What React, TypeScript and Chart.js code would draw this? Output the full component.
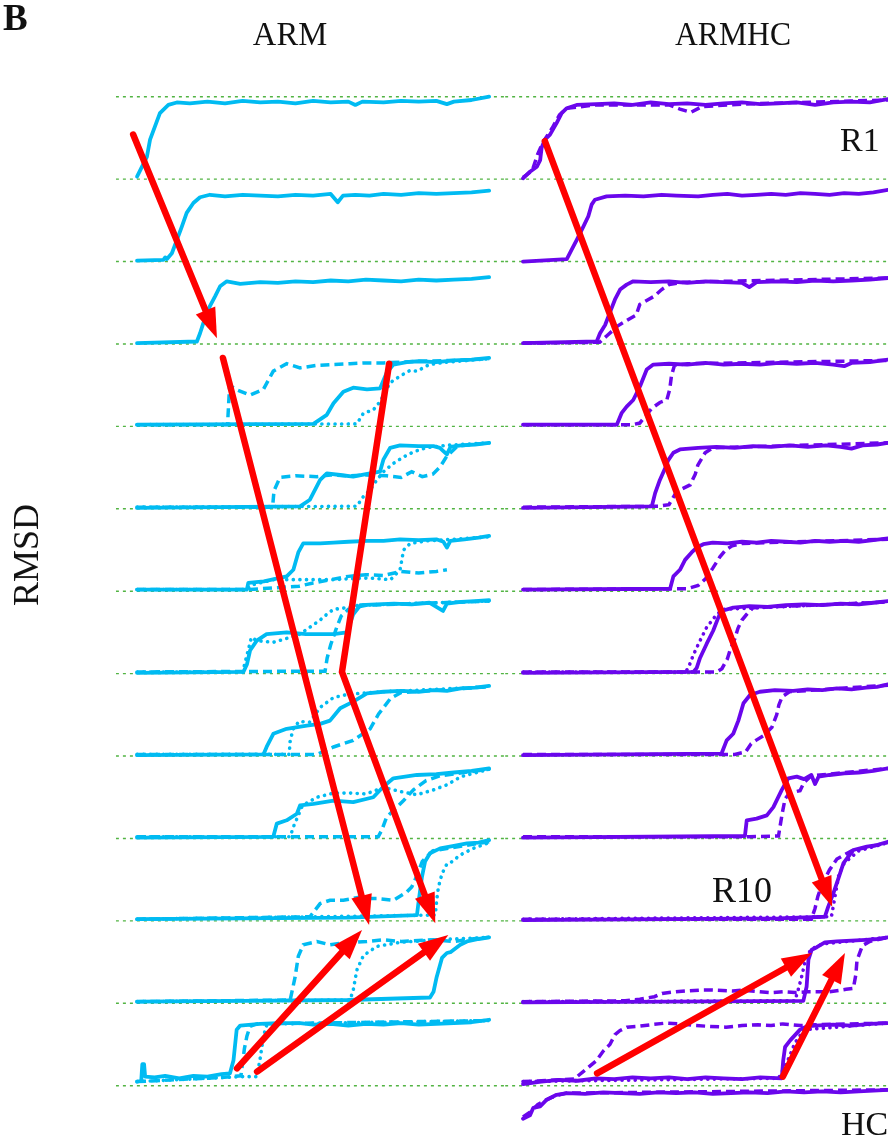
import { useEffect, useRef } from "react";
import { Chart, registerables } from "chart.js";

Chart.register(...registerables);

// ---- colours -------------------------------------------------------------
const ARM_COLOR = "#00bbf2";
const ARMHC_COLOR = "#6a06ec";
const LEVEL_COLOR = "#52b443";
const ARROW_COLOR = "#ff0000";

// ---- vertical stacking: one horizontal reference level per replica row ----
const LEVELS = [0, 1, 2, 3, 4, 5, 6, 7, 8, 9, 10, 11, 12];
const Y_MIN = -0.6;
const Y_MAX = 12.5;

// ---- ARM replicas (time, normalised RMSD) pairs, row 1 = top --------------
const armR1Solid = [0,0.03, 2.8,0.27, 3.7,0.48, 5.1,0.64, 6.5,0.80, 8.9,0.90, 11.3,0.93, 15,0.92, 20,0.94, 25,0.92, 30,0.95, 35,0.93, 40,0.94, 45,0.92, 50,0.95, 55,0.93, 60,0.94, 62,0.90, 64,0.94, 70,0.93, 75,0.95, 80,0.94, 85,0.95, 88,0.91, 90,0.94, 95,0.96, 100,1.0];
const armR2Solid = [0,0.01, 7.5,0.02, 8.0,0.05, 8.5,0.03, 9.9,0.10, 11.3,0.26, 12.7,0.42, 14.1,0.59, 16.0,0.71, 17.9,0.78, 20.7,0.81, 25,0.79, 30,0.81, 35,0.80, 40,0.79, 45,0.81, 50,0.80, 55,0.82, 57,0.72, 58.5,0.80, 62,0.81, 66,0.80, 70,0.82, 75,0.81, 80,0.83, 85,0.82, 90,0.83, 95,0.84, 100,0.86];
const armR3Solid = [0,0.01, 17.0,0.03, 17.9,0.13, 18.8,0.25, 20.7,0.46, 22.2,0.58, 23.6,0.70, 25.5,0.76, 29.3,0.73, 35,0.75, 40,0.74, 45,0.76, 50,0.75, 55,0.77, 60,0.76, 65,0.78, 70,0.77, 75,0.76, 80,0.78, 85,0.77, 90,0.78, 95,0.79, 100,0.81];
const armR4Solid = [0,0.02, 50.1,0.03, 53.9,0.14, 55.8,0.28, 58.6,0.42, 61.4,0.47, 65.3,0.45, 69.0,0.46, 70.9,0.65, 72.8,0.75, 76.6,0.78, 80,0.79, 85,0.78, 90,0.80, 95,0.81, 100,0.83];
const armR4Dash = [0,0.02, 25.7,0.02, 26.3,0.50, 28,0.45, 32.1,0.38, 35.9,0.45, 38.7,0.67, 42.5,0.76, 46.3,0.71, 51.1,0.74, 55,0.75, 60.5,0.76, 65,0.77, 70,0.77, 75,0.78, 80,0.79, 90,0.80, 100,0.82];
const armR4Dot = [0,0.02, 62.4,0.03, 64.3,0.16, 67.1,0.20, 69.0,0.30, 71.9,0.53, 74.7,0.61, 77.6,0.68, 79.5,0.67, 83,0.75, 88,0.78, 100,0.82];
const armR5Solid = [0,0.01, 46.3,0.03, 49.1,0.11, 52.0,0.35, 53.9,0.43, 57.7,0.41, 61.4,0.39, 65,0.42, 69.0,0.45, 70.0,0.60, 71.9,0.74, 74.7,0.77, 80,0.76, 84.2,0.76, 86,0.74, 88.0,0.66, 89,0.75, 92,0.77, 96,0.78, 100,0.80];
const armR5Dash = [0,0.02, 38.5,0.02, 38.9,0.22, 40.6,0.38, 45,0.40, 51.1,0.39, 55,0.41, 60,0.40, 65,0.41, 70.9,0.40, 75,0.38, 78,0.45, 81,0.39, 84,0.42, 86.1,0.51, 88,0.64, 91,0.76, 100,0.80];
const armR5Dot = [0,0.02, 62.4,0.03, 64.3,0.15, 66.2,0.23, 68.1,0.35, 70,0.45, 72.8,0.55, 75.7,0.63, 78.5,0.69, 82,0.74, 88,0.77, 100,0.80];
const armR6Solid = [0,0.02, 31.2,0.02, 31.6,0.10, 36,0.12, 42.5,0.18, 44.4,0.26, 45.8,0.47, 47.2,0.58, 52,0.58, 55.8,0.59, 60,0.60, 65.3,0.61, 70,0.61, 74.7,0.63, 80,0.62, 85,0.63, 87,0.60, 88.0,0.53, 89,0.61, 93,0.63, 97,0.65, 100,0.67];
const armR6Dash = [0,0.02, 32,0.02, 42,0.05, 46,0.06, 50,0.10, 55,0.14, 60,0.18, 65,0.20, 70,0.19, 75,0.24, 80,0.22, 85,0.24, 88,0.26];
const armR6Dot = [0,0.02, 31,0.02, 33,0.08, 38.7,0.14, 46.3,0.14, 55.8,0.14, 60,0.15, 66,0.16, 72,0.14, 74.7,0.26, 75.2,0.38, 75.7,0.50, 77.6,0.58, 82,0.61, 90,0.63, 100,0.66];
const armR7Solid = [0,0.01, 30.2,0.02, 31.2,0.11, 32.1,0.28, 34.0,0.40, 36.8,0.48, 42.5,0.50, 48,0.48, 55.8,0.48, 59.6,0.50, 61.4,0.72, 63.4,0.83, 68,0.84, 73,0.85, 78,0.84, 83,0.86, 86.9,0.76, 88,0.85, 92,0.87, 96,0.88, 100,0.89];
const armR7Dash = [0,0.02, 53.4,0.03, 54,0.19, 55,0.35, 56.7,0.56, 58,0.70, 60,0.78, 65,0.83, 100,0.88];
const armR7Dot = [0,0.02, 30,0.02, 32.5,0.44, 34,0.40, 38.7,0.38, 42,0.42, 46.3,0.48, 52,0.65, 53.9,0.72, 55.8,0.78, 59.6,0.80, 63,0.83, 100,0.88];
const armR8Solid = [0,0.01, 35.9,0.02, 36.8,0.11, 38.7,0.27, 42.5,0.33, 48.2,0.37, 52.0,0.39, 54.8,0.43, 57.7,0.58, 61.4,0.66, 65.3,0.76, 70.0,0.78, 75,0.79, 80,0.78, 84.2,0.80, 88,0.79, 92,0.82, 96,0.83, 100,0.85];
const armR8Dash = [0,0.02, 51.1,0.02, 55.8,0.11, 61.4,0.19, 66.2,0.33, 68.6,0.51, 69.7,0.57, 72,0.70, 75,0.77, 100,0.84];
const armR8Dot = [0,0.02, 43.2,0.02, 43.5,0.19, 44.4,0.33, 46,0.42, 49,0.41, 52,0.59, 55.8,0.71, 60,0.75, 70,0.78, 100,0.84];
const armR9Solid = [0,0.01, 38.7,0.02, 39.7,0.18, 42.5,0.22, 45.4,0.30, 46.3,0.40, 50.1,0.42, 55.8,0.46, 61.4,0.44, 67.1,0.50, 70.0,0.63, 72.8,0.73, 79.5,0.77, 85,0.78, 90,0.80, 95,0.82, 100,0.85];
const armR9Dash = [0,0.02, 68.5,0.02, 69.5,0.10, 70.9,0.26, 73.8,0.38, 75.7,0.46, 78.5,0.59, 82,0.70, 86,0.76, 100,0.84];
const armR9Dot = [0,0.02, 43.5,0.02, 44.4,0.14, 47,0.40, 51.1,0.50, 55.8,0.55, 61,0.55, 65,0.54, 70,0.62, 74.7,0.57, 79.5,0.53, 84.2,0.59, 88,0.65, 92,0.75, 100,0.84];
const armR10Solid = [0,0.02, 30,0.03, 60,0.04, 79.5,0.07, 79.9,0.21, 80.9,0.53, 81.8,0.72, 83.2,0.82, 86.1,0.88, 90,0.91, 93.7,0.94, 97,0.95, 100,0.98];
const armR10Dash = [0,0.02, 49.1,0.05, 52.0,0.21, 54.8,0.25, 58.6,0.25, 63.4,0.29, 66,0.27, 68.1,0.27, 72.8,0.25, 76.6,0.35, 78.0,0.41, 79.5,0.55, 81,0.72, 84,0.85, 100,0.96];
const armR10Dot = [0,0.02, 84.7,0.07, 85.1,0.25, 85.6,0.41, 86.6,0.57, 88.0,0.69, 88.9,0.70, 91.8,0.80, 95.5,0.88, 100,0.95];
const armR11Solid = [0,0.02, 30,0.03, 60,0.04, 83.2,0.07, 84.2,0.14, 85.1,0.32, 86.6,0.55, 88.0,0.61, 89,0.62, 91.8,0.71, 93.7,0.75, 97,0.78, 100,0.80];
const armR11Dash = [0,0.02, 43.5,0.04, 44.9,0.32, 45.8,0.57, 47.2,0.71, 51.1,0.75, 54.8,0.71, 58,0.73, 65.3,0.75, 70.0,0.77, 75,0.75, 84.2,0.77, 90,0.75, 95,0.78, 100,0.80];
const armR11Dot = [0,0.02, 60.5,0.04, 61.4,0.16, 62.4,0.40, 64.3,0.58, 68.1,0.69, 74.7,0.74, 85,0.77, 100,0.80];
const armR12Solid = [0,0.05, 1.2,0.06, 1.5,0.26, 2.0,0.26, 2.3,0.11, 5,0.10, 8,0.12, 12,0.09, 16,0.12, 20,0.11, 24,0.14, 26.4,0.15, 27.4,0.31, 28.3,0.68, 29.3,0.73, 34.9,0.75, 40,0.76, 46.3,0.76, 50,0.74, 55,0.75, 60,0.73, 65,0.75, 70,0.74, 75,0.76, 80,0.74, 85,0.75, 90,0.76, 95,0.77, 100,0.80];
const armR12Dash = [0,0.05, 24,0.10, 29.5,0.12, 30.5,0.45, 31.2,0.60, 32.1,0.72, 34,0.75, 100,0.79];
const armR12Dot = [0,0.05, 30,0.11, 34.0,0.11, 34.9,0.31, 35.9,0.60, 36.8,0.73, 40,0.75, 100,0.79];

// ---- ARMHC replicas ------------------------------------------------------
const armhcR1Solid = [0,0.01, 1.9,0.09, 3.8,0.15, 4.7,0.23, 5.1,0.38, 6.0,0.48, 7.4,0.54, 9.2,0.68, 10.6,0.80, 12.0,0.86, 14.7,0.90, 20,0.91, 25,0.92, 30,0.90, 35,0.93, 40,0.91, 45,0.92, 50,0.90, 55,0.92, 60,0.93, 65,0.91, 70,0.92, 75,0.93, 80,0.90, 85,0.93, 90,0.94, 95,0.93, 100,0.97];
const armhcR1Dash = [0,0.02, 2.5,0.10, 4.0,0.30, 5.5,0.45, 8.0,0.62, 10,0.78, 12,0.86, 20,0.90, 40,0.90, 43,0.85, 46,0.81, 49,0.88, 60,0.91, 100,0.96];
const armhcR2Solid = [0,0.0, 12.0,0.03, 13.3,0.14, 14.7,0.26, 16.5,0.42, 17.9,0.55, 18.8,0.69, 19.7,0.75, 22.9,0.79, 28,0.80, 33,0.79, 38,0.81, 42,0.80, 48,0.79, 52,0.81, 56,0.82, 60,0.80, 64,0.81, 68,0.82, 72,0.81, 76,0.83, 80,0.82, 84,0.81, 88,0.83, 92,0.82, 96,0.84, 100,0.87];
const armhcR3Solid = [0,0.01, 20.2,0.03, 21.1,0.13, 22.5,0.23, 23.8,0.38, 25.2,0.54, 26.6,0.66, 28.4,0.72, 30.2,0.76, 35,0.75, 40,0.76, 45,0.74, 50,0.76, 55,0.75, 60,0.74, 62,0.69, 64,0.75, 70,0.76, 75,0.75, 80,0.77, 85,0.76, 90,0.77, 95,0.78, 100,0.80];
const armhcR3Dash = [0,0.01, 21,0.02, 23,0.10, 26,0.22, 29,0.30, 31,0.35, 32,0.48, 34,0.53, 36,0.58, 38,0.66, 40,0.72, 44,0.75, 100,0.80];
const armhcR4Solid = [0,0.02, 25.7,0.02, 27.0,0.16, 28.4,0.24, 30.2,0.32, 32.1,0.49, 33.9,0.69, 35.7,0.75, 40,0.76, 45,0.75, 50,0.77, 55,0.75, 60,0.76, 65,0.75, 70,0.77, 75,0.76, 80,0.77, 85,0.75, 88,0.73, 90,0.77, 95,0.78, 100,0.81];
const armhcR4Dash = [0,0.02, 30,0.02, 32,0.04, 34,0.15, 35.3,0.22, 37.5,0.29, 39.4,0.32, 40.2,0.45, 40.7,0.62, 41.5,0.74, 45,0.76, 100,0.80];
const armhcR5Solid = [0,0.01, 35.3,0.03, 36.2,0.19, 37.5,0.35, 38.9,0.49, 39.8,0.59, 41.2,0.68, 43.0,0.72, 48,0.74, 53,0.75, 58,0.74, 63,0.76, 68,0.75, 73,0.77, 78,0.75, 83,0.77, 87,0.75, 90,0.73, 93,0.77, 97,0.78, 100,0.80];
const armhcR5Dash = [0,0.02, 37,0.03, 40,0.05, 42.1,0.21, 44,0.25, 45.8,0.29, 47.2,0.42, 47.9,0.53, 49.9,0.68, 52,0.74, 100,0.80];
const armhcR6Solid = [0,0.02, 40.3,0.03, 41.2,0.18, 43.0,0.26, 44.4,0.38, 46.2,0.47, 47.6,0.53, 49.4,0.57, 52,0.59, 56,0.58, 60,0.60, 64,0.59, 68,0.61, 72,0.60, 76,0.59, 80,0.61, 84,0.60, 88,0.61, 92,0.60, 96,0.62, 100,0.64];
const armhcR6Dash = [0,0.02, 45,0.03, 48,0.07, 50,0.15, 52,0.28, 54,0.42, 55.5,0.50, 57.3,0.55, 60,0.58, 100,0.63];
const armhcR7Solid = [0,0.01, 46.7,0.02, 47.6,0.07, 48.5,0.19, 50.3,0.36, 52.1,0.52, 53.5,0.68, 54.4,0.76, 57.6,0.80, 62,0.82, 67,0.81, 72,0.83, 77,0.84, 82,0.83, 87,0.85, 92,0.84, 96,0.86, 100,0.88];
const armhcR7Dash = [0,0.02, 53,0.02, 54.5,0.06, 56,0.18, 56.7,0.28, 58,0.42, 58.9,0.55, 60,0.65, 61.3,0.72, 63,0.80, 100,0.87];
const armhcR7Dot = [0,0.02, 44.5,0.02, 45.3,0.07, 46.7,0.23, 48.5,0.40, 50.3,0.56, 51.7,0.64, 53.1,0.72, 55,0.78, 100,0.87];
const armhcR8Solid = [0,0.01, 54.4,0.03, 55.8,0.19, 57.6,0.27, 59.0,0.43, 60.4,0.64, 62.2,0.74, 64.9,0.78, 69,0.80, 74,0.79, 78,0.81, 82,0.80, 86,0.82, 90,0.81, 94,0.83, 97,0.84, 100,0.87];
const armhcR8Dash = [0,0.02, 58,0.02, 61,0.05, 62.5,0.15, 63.8,0.19, 66,0.25, 68.2,0.35, 69.5,0.50, 70.1,0.62, 71,0.72, 73,0.78, 100,0.86];
const armhcR9Solid = [0,0.01, 60.8,0.03, 61.3,0.22, 64.0,0.24, 66.8,0.28, 68.6,0.38, 70.9,0.59, 72.7,0.73, 75.0,0.75, 77,0.72, 79,0.77, 80,0.66, 81,0.75, 84,0.77, 88,0.79, 92,0.80, 96,0.82, 100,0.85];
const armhcR9Dash = [0,0.02, 62,0.02, 70,0.03, 71,0.30, 71.8,0.48, 73,0.55, 75.9,0.58, 77,0.68, 79,0.76, 100,0.85];
const armhcR10Solid = [0,0.01, 40,0.02, 70,0.03, 82.7,0.05, 83.6,0.17, 85.0,0.33, 86.3,0.50, 87.8,0.70, 90.5,0.86, 94.2,0.90, 97,0.92, 100,0.96];
const armhcR10Dash = [0,0.02, 79,0.02, 80,0.15, 80.8,0.30, 82,0.45, 84,0.62, 86,0.75, 90,0.85, 100,0.95];
const armhcR10Dot = [0,0.02, 84.5,0.05, 85.5,0.30, 86.5,0.55, 88,0.70, 92,0.85, 100,0.95];
const armhcR11Solid = [0,0.01, 40,0.02, 76.8,0.03, 77.7,0.20, 78.2,0.53, 79.1,0.65, 80.5,0.68, 82.7,0.74, 86,0.75, 90,0.76, 94,0.77, 97,0.78, 100,0.80];
const armhcR11Dash = [0,0.02, 28,0.03, 32,0.05, 36,0.08, 38.1,0.12, 41.9,0.14, 45,0.15, 48.5,0.16, 52,0.16, 57.5,0.15, 60,0.16, 64.9,0.14, 68,0.13, 71.2,0.14, 74.5,0.13, 78,0.14, 84,0.14, 88.5,0.17, 90.5,0.18, 91.2,0.35, 91.5,0.52, 93,0.70, 95,0.75, 100,0.80];
const armhcR11Dot = [0,0.02, 74.5,0.03, 75.5,0.18, 76.5,0.35, 77.5,0.55, 79,0.66, 82,0.72, 100,0.80];
const armhcR12Solid = [0,0.02, 5,0.05, 10,0.07, 15,0.06, 20,0.09, 25,0.08, 30,0.10, 35,0.09, 40,0.10, 45,0.08, 50,0.10, 55,0.09, 60,0.08, 65,0.10, 70.9,0.09, 71.3,0.31, 71.8,0.47, 73.2,0.55, 75.9,0.68, 77.7,0.72, 80,0.73, 85.0,0.74, 90,0.73, 95,0.75, 100,0.76];
const armhcR12Dash = [0,0.05, 14,0.08, 17.0,0.19, 20,0.30, 22,0.42, 23.8,0.50, 25.2,0.62, 26.6,0.67, 28.5,0.71, 31.5,0.72, 35,0.74, 39.2,0.76, 43,0.75, 47.1,0.73, 51,0.72, 55.6,0.71, 60,0.73, 64.4,0.74, 68,0.73, 71.2,0.75, 76,0.73, 80,0.74, 100,0.76];
const armhcR12Dot = [0,0.05, 70,0.09, 72.5,0.30, 74.5,0.52, 77,0.68, 100,0.76];
const armhcHCSolid = [0,0.60, 1.9,0.64, 2.8,0.73, 4.7,0.75, 6.5,0.83, 9.2,0.89, 12.0,0.91, 17,0.90, 22,0.92, 27,0.91, 32,0.90, 37,0.92, 42,0.91, 47,0.92, 52,0.90, 57,0.91, 62,0.92, 67,0.91, 72,0.93, 77,0.92, 82,0.93, 87,0.92, 92,0.93, 96,0.94, 100,0.95];
const armhcHCDash = [0,0.62, 2,0.68, 4,0.77, 6,0.82, 8,0.86, 10,0.89, 12,0.91, 100,0.95];

// ---- red arrows (time, stacked level) polylines, head at the last point --
const armArrow1 = [-1.1, 11.54, 22.7, 9.07];
const armArrow2 = [24.4, 8.83, 65.9, 1.95];
const armArrow3 = [71.6, 8.76, 58.2, 5.02, 84.7, 1.97];
const armArrow4 = [28.4, 0.21, 63.9, 1.89];
const armArrow5 = [34.1, 0.17, 88.4, 1.83];
const armhcArrow1 = [6.0, 11.46, 84.7, 2.17];
const armhcArrow2 = [20.3, 0.15, 79.2, 1.61];
const armhcArrow3 = [71.2, 0.11, 88.2, 1.61];

type Row = { solid: number[]; dash?: number[]; dot?: number[]; base: number };

const armRows: Row[] = [
  { solid: armR1Solid, base: 11 },
  { solid: armR2Solid, base: 10 },
  { solid: armR3Solid, base: 9 },
  { solid: armR4Solid, dash: armR4Dash, dot: armR4Dot, base: 8 },
  { solid: armR5Solid, dash: armR5Dash, dot: armR5Dot, base: 7 },
  { solid: armR6Solid, dash: armR6Dash, dot: armR6Dot, base: 6 },
  { solid: armR7Solid, dash: armR7Dash, dot: armR7Dot, base: 5 },
  { solid: armR8Solid, dash: armR8Dash, dot: armR8Dot, base: 4 },
  { solid: armR9Solid, dash: armR9Dash, dot: armR9Dot, base: 3 },
  { solid: armR10Solid, dash: armR10Dash, dot: armR10Dot, base: 2 },
  { solid: armR11Solid, dash: armR11Dash, dot: armR11Dot, base: 1 },
  { solid: armR12Solid, dash: armR12Dash, dot: armR12Dot, base: 0 },
];

const armhcRows: Row[] = [
  { solid: armhcR1Solid, dash: armhcR1Dash, base: 11 },
  { solid: armhcR2Solid, base: 10 },
  { solid: armhcR3Solid, dash: armhcR3Dash, base: 9 },
  { solid: armhcR4Solid, dash: armhcR4Dash, base: 8 },
  { solid: armhcR5Solid, dash: armhcR5Dash, base: 7 },
  { solid: armhcR6Solid, dash: armhcR6Dash, base: 6 },
  { solid: armhcR7Solid, dash: armhcR7Dash, dot: armhcR7Dot, base: 5 },
  { solid: armhcR8Solid, dash: armhcR8Dash, base: 4 },
  { solid: armhcR9Solid, dash: armhcR9Dash, base: 3 },
  { solid: armhcR10Solid, dash: armhcR10Dash, dot: armhcR10Dot, base: 2 },
  { solid: armhcR11Solid, dash: armhcR11Dash, dot: armhcR11Dot, base: 1 },
  { solid: armhcR12Solid, dash: armhcR12Dash, dot: armhcR12Dot, base: 0 },
  { solid: armhcHCSolid, dash: armhcHCDash, base: -1 },
];

const toPoints = (flat: number[], base: number) => {
  const pts: { x: number; y: number }[] = [];
  for (let i = 0; i < flat.length; i += 2) pts.push({ x: flat[i], y: base + flat[i + 1] });
  return pts;
};

function buildDatasets(rows: Row[], color: string, xMin: number, xMax: number) {
  const sets: any[] = [];
  LEVELS.forEach((lv) => {
    sets.push({
      data: [{ x: xMin, y: lv }, { x: xMax, y: lv }],
      borderColor: LEVEL_COLOR,
      borderWidth: 1.4,
      borderDash: [3, 4],
      pointRadius: 0,
      showLine: true,
      order: 10,
    });
  });
  rows.forEach((r) => {
    if (r.dot) {
      sets.push({
        data: toPoints(r.dot, r.base),
        borderColor: color,
        borderWidth: 3.6,
        borderDash: [0.1, 6.5],
        borderCapStyle: "round",
        pointRadius: 0,
        showLine: true,
        order: 3,
      });
    }
    if (r.dash) {
      sets.push({
        data: toPoints(r.dash, r.base),
        borderColor: color,
        borderWidth: 3.5,
        borderDash: [9, 5],
        borderCapStyle: "butt",
        pointRadius: 0,
        showLine: true,
        order: 2,
      });
    }
    sets.push({
      data: toPoints(r.solid, r.base),
      borderColor: color,
      borderWidth: 3.8,
      borderCapStyle: "round",
      borderJoinStyle: "round",
      pointRadius: 0,
      showLine: true,
      order: 1,
    });
  });
  return sets;
}

// Draws thick red polylines with a filled triangular head, positioned through the chart scales.
const arrowPlugin = {
  id: "redArrows",
  afterDatasetsDraw(chart: any, _args: any, opts: any) {
    const { ctx } = chart;
    const xs = chart.scales.x;
    const ys = chart.scales.y;
    const arrows: number[][] = opts.arrows || [];
    ctx.save();
    for (const a of arrows) {
      const p: [number, number][] = [];
      for (let i = 0; i < a.length; i += 2) p.push([xs.getPixelForValue(a[i]), ys.getPixelForValue(a[i + 1])]);
      const [tx, ty] = p[p.length - 1];
      const [sx, sy] = p[p.length - 2];
      const ang = Math.atan2(ty - sy, tx - sx);
      const L = 30;
      const W = 10.5;
      const c = Math.cos(ang);
      const s = Math.sin(ang);
      ctx.strokeStyle = ARROW_COLOR;
      ctx.lineWidth = 6.5;
      ctx.lineCap = "round";
      ctx.lineJoin = "miter";
      ctx.beginPath();
      ctx.moveTo(p[0][0], p[0][1]);
      for (let i = 1; i < p.length - 1; i++) ctx.lineTo(p[i][0], p[i][1]);
      ctx.lineTo(tx - (L - 6) * c, ty - (L - 6) * s);
      ctx.stroke();
      const bx = tx - L * c;
      const by = ty - L * s;
      ctx.fillStyle = ARROW_COLOR;
      ctx.beginPath();
      ctx.moveTo(tx, ty);
      ctx.lineTo(bx - W * s, by + W * c);
      ctx.lineTo(bx + W * s, by - W * c);
      ctx.closePath();
      ctx.fill();
    }
    ctx.restore();
  },
};

const PAGE_H = 1142;

function makeChart(
  canvas: HTMLCanvasElement,
  rows: Row[],
  color: string,
  xMin: number,
  xMax: number,
  padLeft: number,
  padRight: number,
  arrows: number[][]
) {
  return new Chart(canvas, {
    type: "scatter",
    data: { datasets: buildDatasets(rows, color, xMin, xMax) },
    options: {
      animation: false,
      responsive: false,
      maintainAspectRatio: false,
      devicePixelRatio: 1,
      events: [],
      layout: { padding: { left: padLeft, right: padRight, top: 55.49, bottom: 6.85 } },
      scales: {
        x: { type: "linear", min: xMin, max: xMax, display: false },
        y: { type: "linear", min: Y_MIN, max: Y_MAX, display: false },
      },
      plugins: {
        legend: { display: false },
        tooltip: { enabled: false },
        redArrows: { arrows },
      } as any,
    },
    plugins: [arrowPlugin],
  });
}

const SERIF = '"Liberation Serif", "Times New Roman", serif';

function Label(props: {
  text: string;
  x: number;
  baseline: number;
  size: number;
  bold?: boolean;
  center?: boolean;
  squeeze?: number;
}) {
  const { text, x, baseline, size, bold, center, squeeze } = props;
  const parts: string[] = [];
  if (center) parts.push("translateX(-50%)");
  if (squeeze) parts.push(`scaleX(${squeeze})`);
  return (
    <div
      style={{
        position: "absolute",
        left: x,
        top: baseline - 0.8375 * size,
        fontFamily: SERIF,
        fontSize: size,
        lineHeight: 1,
        fontWeight: bold ? 700 : 400,
        color: "#111",
        whiteSpace: "nowrap",
        transform: parts.length ? parts.join(" ") : undefined,
        transformOrigin: center ? "50% 50%" : "0 50%",
      }}
    >
      {text}
    </div>
  );
}

export default function App() {
  const leftRef = useRef<HTMLCanvasElement>(null);
  const rightRef = useRef<HTMLCanvasElement>(null);

  useEffect(() => {
    const left = makeChart(leftRef.current!, armRows, ARM_COLOR, -6, 104.5, 115.9, 0, [
      armArrow1,
      armArrow2,
      armArrow3,
      armArrow4,
      armArrow5,
    ]);
    const right = makeChart(rightRef.current!, armhcRows, ARMHC_COLOR, -4.9, 100, 0.115, 6, [
      armhcArrow1,
      armhcArrow2,
      armhcArrow3,
    ]);
    return () => {
      left.destroy();
      right.destroy();
    };
  }, []);

  return (
    <div style={{ position: "absolute", left: 0, top: 0, width: 894, height: PAGE_H, background: "#fff", overflow: "hidden" }}>
      <canvas ref={leftRef} width={505} height={PAGE_H} style={{ position: "absolute", left: 0, top: 0, width: 505, height: PAGE_H }} />
      <canvas ref={rightRef} width={389} height={PAGE_H} style={{ position: "absolute", left: 505, top: 0, width: 389, height: PAGE_H }} />
      <Label text="B" x={3} baseline={30} size={37} bold />
      <Label text="ARM" x={290} baseline={45} size={34} center squeeze={0.96} />
      <Label text="ARMHC" x={733} baseline={45} size={34} center squeeze={0.93} />
      <Label text="R1" x={840} baseline={151} size={34} />
      <Label text="R10" x={712} baseline={902} size={36} />
      <Label text="HC" x={841} baseline={1135} size={34} />
      <div
        style={{
          position: "absolute",
          left: 26,
          top: 555,
          fontFamily: SERIF,
          fontSize: 36,
          lineHeight: 1,
          color: "#111",
          whiteSpace: "nowrap",
          transform: "translate(-50%, -50%) rotate(-90deg)",
        }}
      >
        RMSD
      </div>
    </div>
  );
}
